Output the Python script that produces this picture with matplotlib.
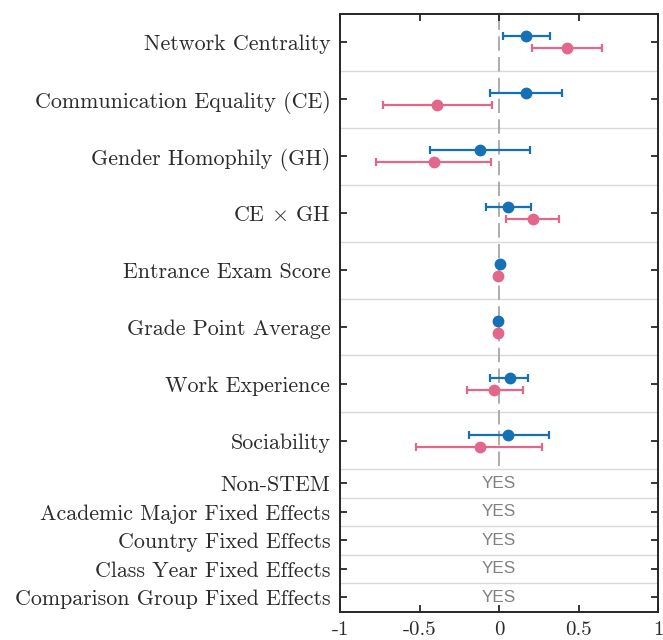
import matplotlib
matplotlib.use("Agg")
import matplotlib.pyplot as plt

plt.rcParams["font.family"] = "cmr10"
plt.rcParams["mathtext.fontset"] = "cm"
plt.rcParams["axes.unicode_minus"] = False
plt.rcParams["axes.formatter.use_mathtext"] = True

# coefficient rows (estimate, lower CI, upper CI)
variables = ["Network Centrality", "Communication Equality (CE)",
             "Gender Homophily (GH)", r"CE $\times$ GH",
             "Entrance Exam Score", "Grade Point Average",
             "Work Experience", "Sociability"]
blue_est = [0.172, 0.172, -0.121, 0.057, 0.004, -0.004, 0.067, 0.057]
blue_lo = [0.023, -0.058, -0.431, -0.084, 0.000, -0.008, -0.057, -0.190]
blue_hi = [0.323, 0.394, 0.195, 0.201, 0.008, 0.000, 0.185, 0.313]
pink_est = [0.428, -0.392, -0.411, 0.212, -0.006, -0.006, -0.029, -0.121]
pink_lo = [0.208, -0.730, -0.771, 0.042, -0.010, -0.010, -0.201, -0.520]
pink_hi = [0.650, -0.042, -0.048, 0.375, -0.002, -0.002, 0.151, 0.270]

# fixed effects rows
controls = ["Non-STEM", "Academic Major Fixed Effects", "Country Fixed Effects",
            "Class Year Fixed Effects", "Comparison Group Fixed Effects"]
control_vals = ["YES", "YES", "YES", "YES", "YES"]

x_ticks = [-1, -0.5, 0, 0.5, 1]
x_ticklabels = ["-1", "-0.5", "0", "0.5", "1"]

blue = "#1570B6"
pink = "#E2678A"

n_var = len(variables)
n_ctl = len(controls)
top = 2 * n_var + n_ctl
var_y = [top - (2 * i + 1) for i in range(n_var)]
ctl_y = [n_ctl - (j + 0.5) for j in range(n_ctl)]
off = 0.21

fig = plt.figure(figsize=(6.63, 6.40), dpi=100)
ax = fig.add_axes([340 / 663, 1 - 611.5 / 640, 318 / 663, 597.5 / 640])

# row separators
for i in range(1, n_var + 1):
    ax.axhline(top - 2 * i, color="#d9d9d9", lw=1.0, zorder=0)
for j in range(1, n_ctl):
    ax.axhline(n_ctl - j, color="#d9d9d9", lw=1.0, zorder=0)

# zero line over coefficient rows
ax.plot([0, 0], [n_ctl + 0.1, top], color="#a6a6a6", lw=1.3,
        dashes=(8, 3.5), zorder=1)

for k in range(n_var):
    yb = var_y[k] + off
    yp = var_y[k] - off
    ax.errorbar(blue_est[k], yb,
                xerr=[[blue_est[k] - blue_lo[k]], [blue_hi[k] - blue_est[k]]],
                fmt="o", color=blue, ms=7.5, lw=1.6, capsize=3, capthick=1.6,
                zorder=3)
    ax.errorbar(pink_est[k], yp,
                xerr=[[pink_est[k] - pink_lo[k]], [pink_hi[k] - pink_est[k]]],
                fmt="o", color=pink, ms=7.5, lw=1.6, capsize=3, capthick=1.6,
                zorder=3)

for j in range(n_ctl):
    ax.text(0, ctl_y[j], control_vals[j], ha="center", va="center",
            family="Liberation Sans", fontsize=12.3, color="#808080")

ax.set_xlim(-1, 1)
ax.set_ylim(0, top)
ax.set_xticks(x_ticks)
ax.set_xticklabels(x_ticklabels, fontsize=15)
ax.set_yticks(var_y + ctl_y)
ax.set_yticklabels(variables + controls, fontsize=15.8)

ax.tick_params(axis="both", direction="in", top=True, right=True,
               length=5, width=1.3, color="#262626", labelcolor="#2b2b2b")
ax.tick_params(axis="y", pad=7)
ax.tick_params(axis="x", pad=7)
for s in ax.spines.values():
    s.set_linewidth(1.4)
    s.set_color("#262626")

fig.savefig("out.png", dpi=100)
